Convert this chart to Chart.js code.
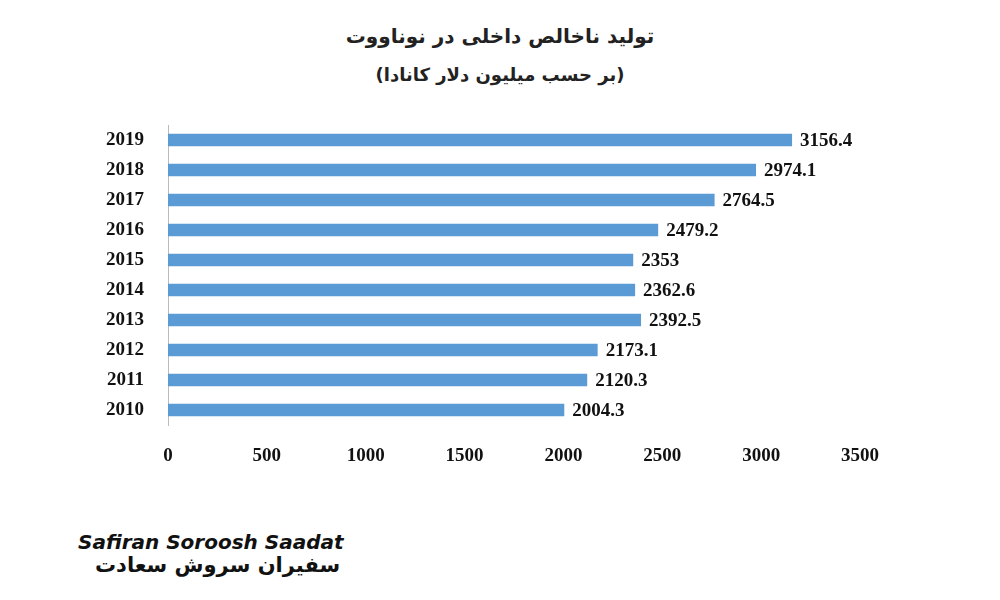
<!DOCTYPE html>
<html><head><meta charset="utf-8">
<script src="https://cdn.jsdelivr.net/npm/chart.js@4"></script>
<style>
body{margin:0;background:#fff;width:1000px;height:600px;overflow:hidden;position:relative;font-family:"DejaVu Sans",sans-serif}
#c{position:absolute;left:0;top:0}
.t{position:absolute;left:0;width:1000px;text-align:center;font-weight:bold;color:#222;direction:rtl}
.logo{position:absolute;font-weight:bold;color:#111}
</style></head><body>
<div class="t" style="top:24px;font-size:20px">تولید ناخالص داخلی در نوناووت</div>
<div class="t" style="top:64px;font-size:18px">(بر حسب میلیون دلار کانادا)</div>
<div class="logo" style="left:78px;top:530px;font-size:20px;font-style:italic">Safiran Soroosh Saadat</div>
<div class="logo" style="left:95px;top:553px;font-size:21px;direction:rtl">سفیران سروش سعادت</div>
<canvas id="c" width="1000" height="600"></canvas>
<script>
const years=["2019","2018","2017","2016","2015","2014","2013","2012","2011","2010"];
const gdp=[3156.4,2974.1,2764.5,2479.2,2353,2362.6,2392.5,2173.1,2120.3,2004.3];
const xTicks=[0,500,1000,1500,2000,2500,3000,3500];
const font={family:"Liberation Serif",size:19,weight:"bold"};
const labels={id:"lbl",afterDatasetsDraw(ch){const c=ch.ctx;const m=ch.getDatasetMeta(0);c.save();c.font="bold 19px 'Liberation Serif'";c.fillStyle="#111";c.textBaseline="middle";m.data.forEach((b,i)=>c.fillText(String(gdp[i]),b.x+8,b.y+1));c.restore();}};
new Chart(document.getElementById("c"),{type:"bar",
data:{labels:years,datasets:[{data:gdp,backgroundColor:"#5b9bd5",barPercentage:0.42,categoryPercentage:1}]},
options:{indexAxis:"y",responsive:false,animation:false,
layout:{padding:{left:90,right:140,top:125,bottom:135}},
plugins:{legend:{display:false},tooltip:{enabled:false}},
scales:{
x:{min:0,max:3500,afterBuildTicks(a){a.ticks=xTicks.map(v=>({value:v}));},grid:{display:false},border:{display:false},ticks:{color:"#111",font,padding:12,callback:v=>String(v)},afterFit(a){a.height=40;}},
y:{grid:{display:false},border:{color:"#bbb"},ticks:{color:"#111",font,padding:16},afterFit(a){a.width=78;}}}},
plugins:[labels]});
</script></body></html>
